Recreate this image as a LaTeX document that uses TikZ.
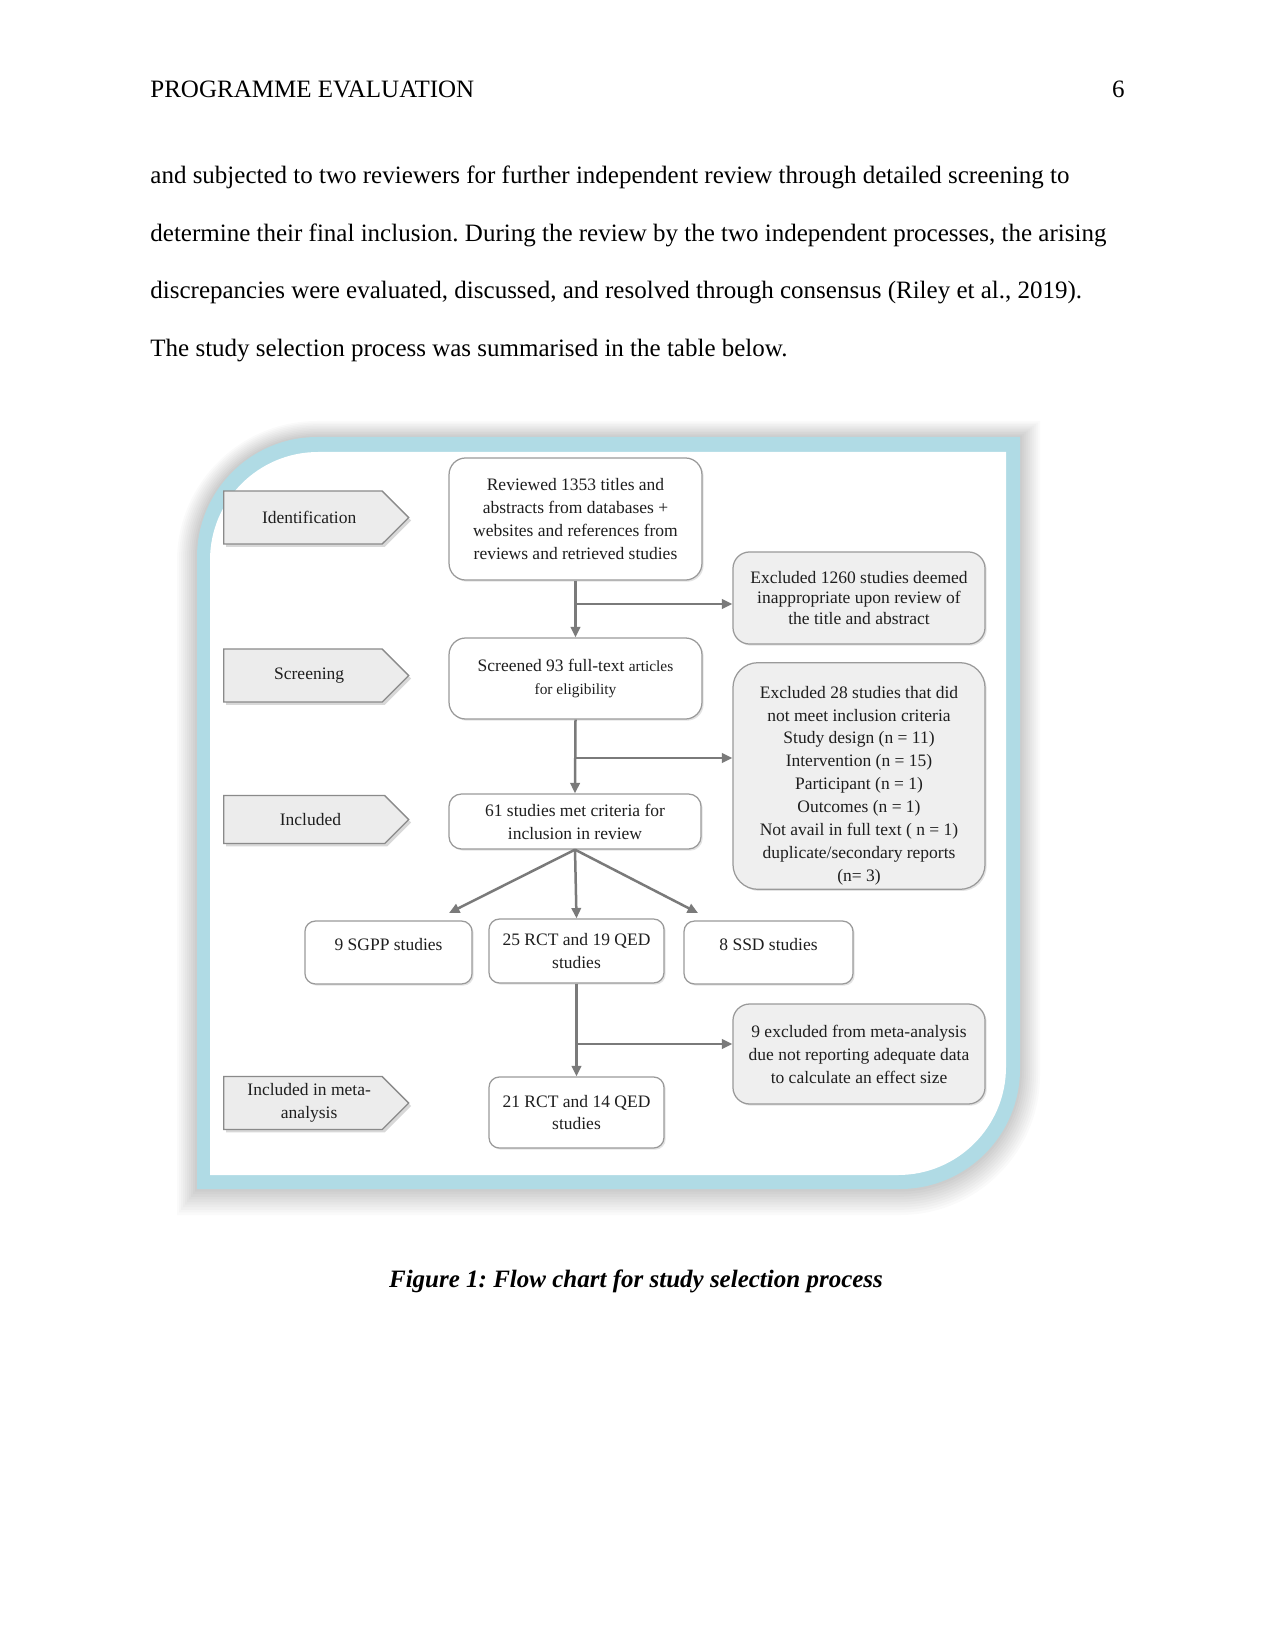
\documentclass[tikz,border=0pt]{standalone}
\usepackage{fontspec}
\setmainfont{Liberation Serif}
\usetikzlibrary{arrows.meta,shapes.symbols,shadows}
\definecolor{framebl}{HTML}{B0DBE5}
\definecolor{boxgray}{HTML}{9A9A9A}
\definecolor{excfill}{HTML}{EFEFEF}
\definecolor{stagefill}{HTML}{ECECEC}
\definecolor{stagegray}{HTML}{8A8A8A}
\definecolor{arrgray}{HTML}{7A7A7A}
\definecolor{inkgray}{HTML}{1E1E1E}
\newcommand{\roundframe}[5]{({#1},{#2+#5}) .. controls ({#1},{#2+0.448*(#5)}) and ({#1+0.448*(#5)},{#2}) .. ({#1+#5},{#2})
  -- ({#3},{#2}) -- ({#3},{#4-(#5)})
  .. controls ({#3},{#4-0.448*(#5)}) and ({#3-0.448*(#5)},{#4}) .. ({#3-(#5)},{#4})
  -- ({#1},{#4}) -- cycle}
\frenchspacing

\begin{document}
\begin{tikzpicture}[
  x=0.48pt, y=-0.48pt,
  font=\fontsize{8.4}{11}\selectfont,
  body/.style={font=\fontsize{12}{14}\selectfont, anchor=base west, inner sep=0pt},
  box/.style={draw=boxgray, line width=0.6pt, rounded corners=8pt, fill=white, align=center,
    inner sep=2pt, text=inkgray, drop shadow={shadow xshift=0.8pt, shadow yshift=-0.8pt, opacity=0.22}},
  small/.style={box, rounded corners=5pt},
  exc/.style={box, fill=excfill},
  stage/.style={signal, signal to=east, signal from=nowhere, signal pointer angle=90, draw=stagegray,
    line width=0.6pt, fill=stagefill, text=inkgray, align=center, anchor=west, inner sep=1pt,
    minimum width=88.8pt, minimum height=25.4pt,
    drop shadow={shadow xshift=1.2pt, shadow yshift=-1.4pt, opacity=0.3}},
  arr/.style={-{Triangle[length=5pt, width=4.5pt]}, line width=1.2pt, draw=arrgray}
]
  \useasboundingbox (0,0) rectangle (1275,1650);
  \fill[white] (0,0) rectangle (1275,1650);

  \node[body] (hdr) at (150,98) {PROGRAMME EVALUATION};
  \node[body, anchor=base east] (pagenum) at (1125,98) {6};
  \node[body] (par1) at (150,184) {and subjected to two reviewers for further independent review through detailed screening to};
  \node[body] (par2) at (150,241.5) {determine their final inclusion. During the review by the two independent processes, the arising};
  \node[body] (par3) at (150,299) {discrepancies were evaluated, discussed, and resolved through consensus (Riley et al., 2019).};
  \node[body] (par4) at (150,356.5) {The study selection process was summarised in the table below.};

  \foreach \d in {1,...,10}
    \fill[black, opacity=0.018] \roundframe{197-2*\d}{437-1.6*\d}{1020+2*\d}{1189+2.6*\d}{120+2*\d};
  \fill[framebl] \roundframe{197}{437}{1020}{1189}{120};
  \fill[white] \roundframe{210}{452}{1006}{1175}{108};

  \node[stage] (sid) at (223,517.5) {\hspace{6pt}Identification};
  \node[stage] (sscr) at (223,675.5) {\hspace{6pt}Screening};
  \node[stage, minimum height=23pt] (sinc) at (223,819.5) {\hspace{6pt}Included};
  \node[stage] (smeta) at (223,1103) {\hspace{6pt}Included in meta-\\\hspace{6pt}analysis};

  \node[box, minimum width=121.4pt, minimum height=58.6pt] (rev) at (575.5,519)
    {Reviewed 1353 titles and\\abstracts from databases +\\websites and references from\\reviews and retrieved studies};
  \node[exc, minimum width=121pt, minimum height=44.2pt, font=\fontsize{8.4}{10}\selectfont] (exc1) at (859,598)
    {Excluded 1260 studies deemed\\inappropriate upon review of\\the title and abstract};
  \node[box, minimum width=121.4pt, minimum height=38.9pt] (scr) at (575.5,678.5)
    {Screened 93 full-text {\fontsize{7.4}{11}\selectfont articles}\\{\fontsize{7.4}{11}\selectfont for eligibility}};
  \node[exc, rounded corners=12pt, minimum width=121pt, minimum height=108.5pt] (exc2) at (859,776)
    {\rule{0pt}{15pt}Excluded 28 studies that did\\not meet inclusion criteria\\Study design (n = 11)\\Intervention (n = 15)\\Participant (n = 1)\\Outcomes (n = 1)\\Not avail in full text ( n = 1)\\duplicate/secondary reports\\(n= 3)};
  \node[box, rounded corners=6pt, minimum width=121pt, minimum height=26.4pt] (inc) at (575,821.5)
    {61 studies met criteria for\\inclusion in review};
  \node[small, minimum width=80.2pt, minimum height=30.2pt, text depth=8pt] (sgpp) at (388.5,952.5) {9 SGPP studies};
  \node[small, minimum width=84pt, minimum height=30.7pt] (rct) at (576.5,951) {25 RCT and 19 QED\\studies};
  \node[small, minimum width=81.1pt, minimum height=30.2pt, text depth=8pt] (ssd) at (768.5,952.5) {8 SSD studies};
  \node[exc, minimum width=121pt, minimum height=48pt] (exc3) at (859,1054)
    {9 excluded from meta-analysis\\due not reporting adequate data\\to calculate an effect size};
  \node[small, minimum width=84pt, minimum height=34.1pt] (meta) at (576.5,1112.5) {21 RCT and 14 QED\\studies};

  \coordinate (b1) at (rev.south |- 0,604);
  \coordinate (b2) at (scr.south |- 0,758);
  \coordinate (b3) at (rct.south |- 0,1044);
  \coordinate (fl) at (449,913);
  \coordinate (fr) at (698,913);

  \draw[arr] (rev.south) -- (scr.north);
  \draw[arr] (b1) -- (b1 -| exc1.west);
  \draw[arr] (scr.south) -- (inc.north);
  \draw[arr] (b2) -- (b2 -| exc2.west);
  \draw[arr] (inc.south) -- (fl);
  \draw[arr] (inc.south) -- (rct.north);
  \draw[arr] (inc.south) -- (fr);
  \draw[arr] (rct.south) -- (meta.north);
  \draw[arr] (b3) -- (b3 -| exc3.west);

  \node[body, anchor=base, font=\fontsize{12}{14}\selectfont\bfseries\itshape] (cap) at (636,1287)
    {Figure 1: Flow chart for study selection process};
\end{tikzpicture}
\end{document}
